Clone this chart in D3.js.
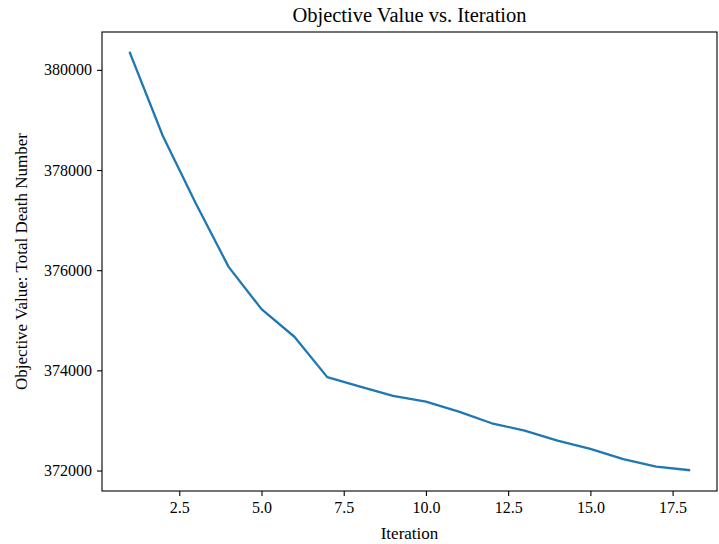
<!DOCTYPE html>
<html>
<head>
<meta charset="utf-8">
<script src="https://cdn.jsdelivr.net/npm/d3@7"></script>
<style>
  body { margin: 0; background: #fff; }
  text { font-family: "Liberation Serif", "Times New Roman", serif; fill: #000; }
</style>
</head>
<body>
<svg id="chart" width="719" height="544"></svg>
<script>
// iteration number and objective value
const iterations = [1, 2, 3, 4, 5, 6, 7, 8, 9, 10, 11, 12, 13, 14, 15, 16, 17, 18];
const objective = [380339, 378680, 377335, 376066, 375223, 374671, 373865, 373674, 373489,
                   373375, 373176, 372944, 372797, 372598, 372432, 372227, 372080, 372008];
const xTicks = [2.5, 5.0, 7.5, 10.0, 12.5, 15.0, 17.5];
const yTicks = [372000, 374000, 376000, 378000, 380000];

const svg = d3.select("#chart");
const margin = {left: 102, right: 2, top: 32, bottom: 53};
const width = 719 - margin.left - margin.right;
const height = 544 - margin.top - margin.bottom;

// matplotlib style 5% padding on both axes
const xExt = d3.extent(iterations), yExt = d3.extent(objective);
const xPad = (xExt[1] - xExt[0]) * 0.05, yPad = (yExt[1] - yExt[0]) * 0.05;

const x = d3.scaleLinear()
    .domain([xExt[0] - xPad, xExt[1] + xPad])
    .range([0, width]);
const y = d3.scaleLinear()
    .domain([yExt[0] - yPad, yExt[1] + yPad])
    .range([height, 0]);

const g = svg.append("g")
    .attr("transform", `translate(${margin.left},${margin.top})`);

// x axis
const xAxis = g.append("g")
    .attr("transform", `translate(0,${height})`)
    .call(d3.axisBottom(x).tickValues(xTicks).tickFormat(d3.format(".1f")).tickSize(5).tickPadding(6));

// y axis
const yAxis = g.append("g")
    .call(d3.axisLeft(y).tickValues(yTicks).tickFormat(d3.format("d")).tickSize(5).tickPadding(5));

[xAxis, yAxis].forEach(a => {
    a.select(".domain").remove();
    a.selectAll("line").attr("stroke", "#000").attr("stroke-width", 1.1);
    a.selectAll("text").style("font-size", "16px").style("font-family", "Liberation Serif, serif");
});

// the line
g.append("path")
    .datum(iterations.map((d, i) => [d, objective[i]]))
    .attr("fill", "none")
    .attr("stroke", "#1f77b4")
    .attr("stroke-width", 2.3)
    .attr("stroke-linejoin", "round")
    .attr("stroke-linecap", "square")
    .attr("d", d3.line().x(d => x(d[0])).y(d => y(d[1])));

// frame
g.append("rect")
    .attr("width", width)
    .attr("height", height)
    .attr("fill", "none")
    .attr("stroke", "#000")
    .attr("stroke-width", 1.1);

// title and labels
svg.append("text")
    .attr("x", margin.left + width / 2)
    .attr("y", 22)
    .attr("text-anchor", "middle")
    .style("font-size", "20.5px")
    .text("Objective Value vs. Iteration");

svg.append("text")
    .attr("x", margin.left + width / 2)
    .attr("y", 539)
    .attr("text-anchor", "middle")
    .style("font-size", "17px")
    .text("Iteration");

svg.append("text")
    .attr("transform", `translate(27,${margin.top + height / 2}) rotate(-90)`)
    .attr("text-anchor", "middle")
    .style("font-size", "17px")
    .text("Objective Value: Total Death Number");
</script>
</body>
</html>
